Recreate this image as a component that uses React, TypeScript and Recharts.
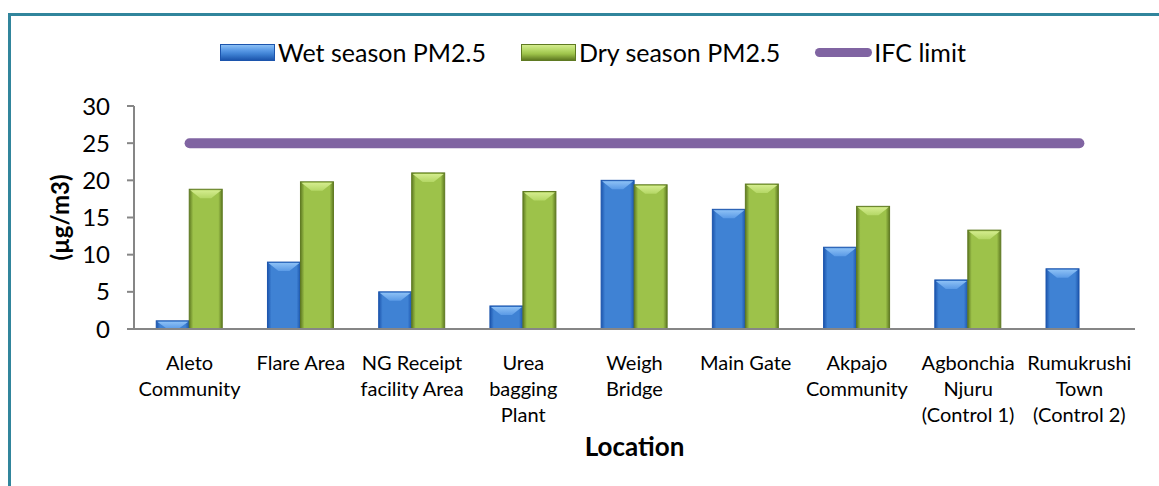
import { ComposedChart, Bar, Line, XAxis, YAxis, Text } from "recharts";

const categories = [
  "Aleto\nCommunity",
  "Flare Area",
  "NG Receipt\nfacility Area",
  "Urea\nbagging\nPlant",
  "Weigh\nBridge",
  "Main Gate",
  "Akpajo\nCommunity",
  "Agbonchia\nNjuru\n(Control 1)",
  "Rumukrushi\nTown\n(Control 2)",
];
const wetSeason = [1.1, 9.0, 5.0, 3.1, 20.0, 16.1, 11.0, 6.6, 8.1];
const drySeason = [18.8, 19.8, 21.0, 18.5, 19.4, 19.5, 16.5, 13.3, null];
const ifcLimit = [25, 25, 25, 25, 25, 25, 25, 25, 25];
const yTicks = [0, 5, 10, 15, 20, 25, 30];

const data = categories.map((name, i) => ({
  name,
  wet: wetSeason[i],
  dry: drySeason[i],
  ifc: ifcLimit[i],
}));

const FONT = "Lato, 'Open Sans', sans-serif";

const palette = {
  wet: { edge: "#1c55ad", mid: "#3f82d4", light: "#8cc0f5", top: "#5a9ae6" },
  dry: { edge: "#5f7a22", mid: "#9dc24a", light: "#d4ec8e", top: "#b4d765" },
};

// bar with a bevelled top, roughly like the Office 3D style
const bevelBar = (key: "wet" | "dry") => (props: any) => {
  const { x, y, width, height } = props;
  if (!height || height <= 0) return <g />;
  const c = palette[key];
  const b = Math.min(9, height);
  const inset = Math.min(12, width / 3);
  return (
    <g>
      <rect x={x} y={y} width={width} height={height} fill={`url(#grad-${key})`} stroke={c.edge} strokeWidth={1} />
      <polygon
        points={`${x + 1},${y + 1} ${x + width - 1},${y + 1} ${x + width - inset},${y + b} ${x + inset},${y + b}`}
        fill={`url(#top-${key})`}
      />
    </g>
  );
};

const CategoryTick = (props: any) => {
  const { x, y, payload } = props;
  const lines = String(payload.value).split("\n");
  return (
    <text x={x} y={y} textAnchor="middle" fontFamily={FONT} fontSize={20} fill="#000">
      {lines.map((l, i) => (
        <tspan key={i} x={x} dy={i === 0 ? 33 : 26}>
          {l}
        </tspan>
      ))}
    </text>
  );
};

const LegendSwatch = ({ kind }: { kind: "wet" | "dry" | "ifc" }) => {
  if (kind === "ifc") {
    return <div style={{ width: 57, height: 9, borderRadius: 5, background: "#8064a2", marginRight: 2 }} />;
  }
  const c = palette[kind];
  return (
    <div
      style={{
        width: 55,
        height: 17,
        boxSizing: "border-box",
        border: `1px solid ${c.edge}`,
        background: `linear-gradient(to bottom, ${c.light} 0%, ${c.top} 35%, ${c.mid} 60%, ${c.edge} 100%)`,
        marginRight: 3,
      }}
    />
  );
};

const legendItems: { kind: "wet" | "dry" | "ifc"; label: string }[] = [
  { kind: "wet", label: "Wet season PM2.5" },
  { kind: "dry", label: "Dry season PM2.5" },
  { kind: "ifc", label: "IFC limit" },
];

export default function App() {
  return (
    <div style={{ position: "absolute", left: 0, top: 0, width: 1159, height: 486, overflow: "hidden", background: "#fff" }}>
      <svg width={0} height={0} style={{ position: "absolute" }}>
        <defs>
          {(["wet", "dry"] as const).map((k) => (
            <g key={k}>
              <linearGradient id={`grad-${k}`} x1="0" y1="0" x2="1" y2="0">
                <stop offset="0%" stopColor={palette[k].edge} />
                <stop offset="12%" stopColor={palette[k].mid} />
                <stop offset="88%" stopColor={palette[k].mid} />
                <stop offset="100%" stopColor={palette[k].edge} />
              </linearGradient>
              <linearGradient id={`top-${k}`} x1="0" y1="0" x2="0" y2="1">
                <stop offset="0%" stopColor={palette[k].light} />
                <stop offset="100%" stopColor={palette[k].top} />
              </linearGradient>
            </g>
          ))}
        </defs>
      </svg>

      {/* chart frame, only left and top edges are inside the picture */}
      <div
        style={{
          position: "absolute",
          left: 8,
          top: 13,
          width: 1160,
          height: 480,
          borderLeft: "3px solid #31859c",
          borderTop: "3px solid #31859c",
        }}
      />

      <div
        style={{
          position: "absolute",
          left: 220,
          top: 37,
          display: "flex",
          alignItems: "center",
          fontFamily: FONT,
          fontSize: 25,
          color: "#000",
          whiteSpace: "nowrap",
        }}
      >
        {legendItems.map((it) => (
          <div key={it.kind} style={{ display: "flex", alignItems: "center", marginRight: 35 }}>
            <LegendSwatch kind={it.kind} />
            <span>{it.label}</span>
          </div>
        ))}
      </div>

      <div style={{ position: "absolute", left: 0, top: 0 }}>
        <ComposedChart
          width={1159}
          height={486}
          data={data}
          margin={{ top: 106, right: 24, bottom: 30, left: 34 }}
          barCategoryGap="20%"
          barGap={0}
        >
          <XAxis
            dataKey="name"
            interval={0}
            tickLine={false}
            axisLine={{ stroke: "#868686", strokeWidth: 2 }}
            tick={<CategoryTick />}
            height={127}
            label={{
              value: "Location",
              position: "insideBottom",
              offset: 0,
              style: { fontFamily: FONT, fontSize: 26, fontWeight: 700, fill: "#000" },
            }}
          />
          <YAxis
            width={100}
            domain={[0, 30]}
            ticks={yTicks}
            tickSize={7}
            tickMargin={17}
            tickLine={{ stroke: "#868686", strokeWidth: 2 }}
            axisLine={{ stroke: "#868686", strokeWidth: 2 }}
            tick={{ fontFamily: FONT, fontSize: 24, fill: "#000" }}
            label={{
              content: (p: any) => {
                const vb = p.viewBox;
                return (
                  <Text
                    x={vb.x + 26}
                    y={vb.y + vb.height / 2}
                    angle={-90}
                    textAnchor="middle"
                    verticalAnchor="middle"
                    style={{ fontFamily: FONT, fontSize: 24, fontWeight: 700, fill: "#000" }}
                  >
                    (µg/m3)
                  </Text>
                );
              },
            }}
          />
          <Bar dataKey="wet" name="Wet season PM2.5" fill="#3f82d4" shape={bevelBar("wet")} isAnimationActive={false} />
          <Bar dataKey="dry" name="Dry season PM2.5" fill="#9dc24a" shape={bevelBar("dry")} isAnimationActive={false} />
          <Line
            dataKey="ifc"
            name="IFC limit"
            stroke="#8064a2"
            strokeWidth={10}
            strokeLinecap="round"
            dot={false}
            activeDot={false}
            isAnimationActive={false}
          />
        </ComposedChart>
      </div>
    </div>
  );
}
